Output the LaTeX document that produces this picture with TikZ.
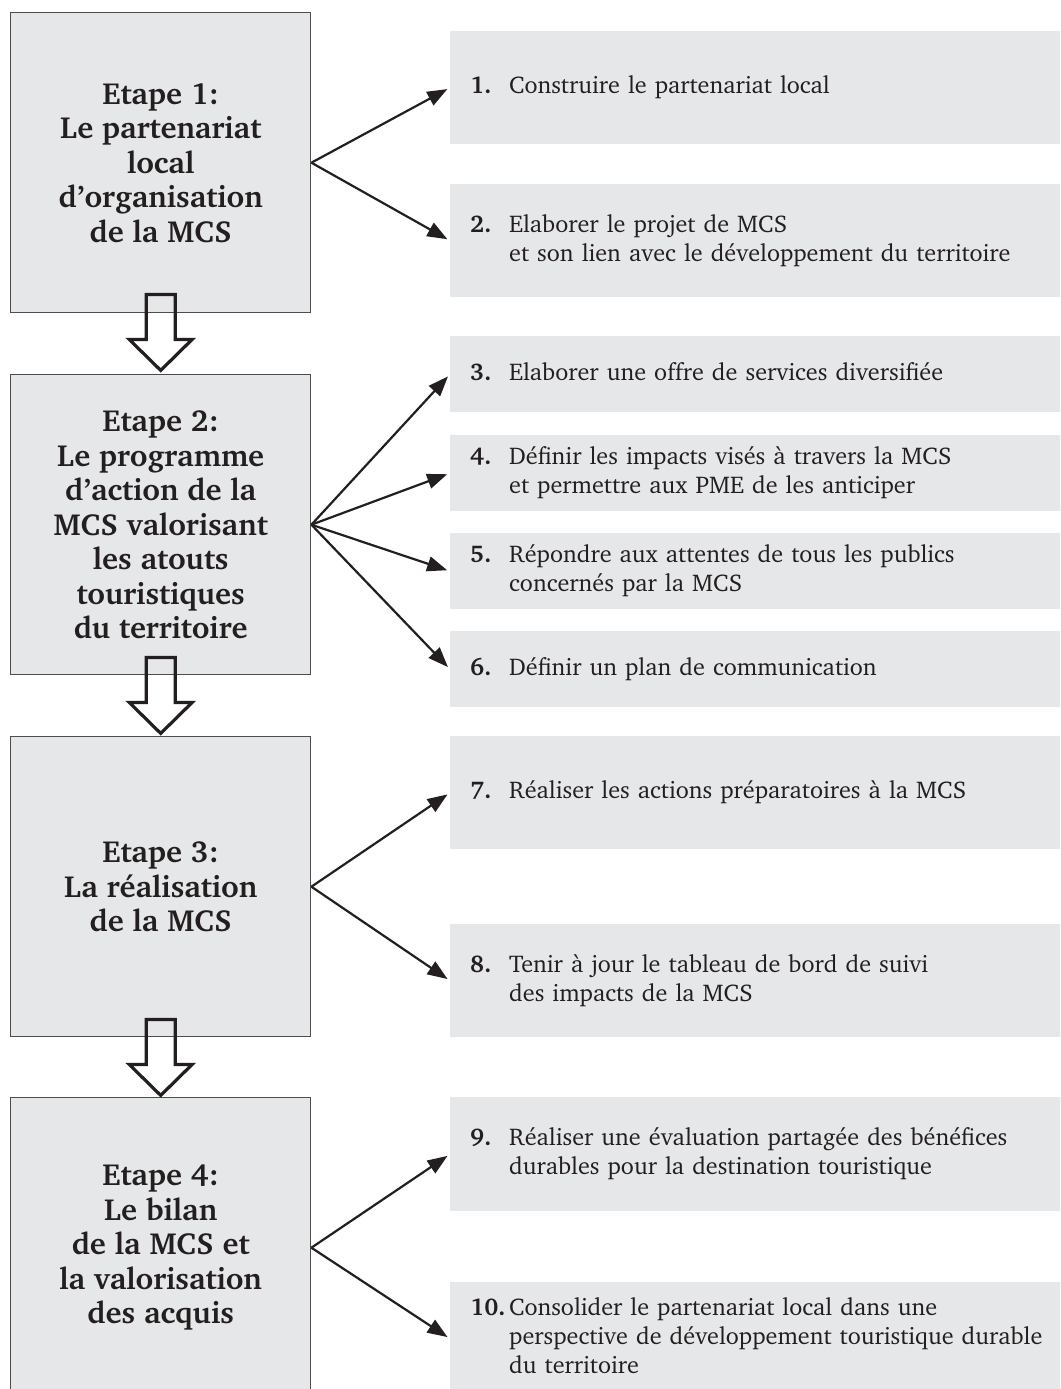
\documentclass[tikz,border=0pt]{standalone}
\usepackage[T1]{fontenc}
\usepackage{charter}
\usetikzlibrary{arrows.meta}
\definecolor{boxgrey}{HTML}{E6E7E8}
\definecolor{ink}{HTML}{231F20}
\definecolor{edge}{HTML}{4D4D4F}
\tikzset{
  sbox/.style={draw=edge, line width=1.4pt, fill=boxgrey, anchor=north west,
    minimum width=300pt, minimum height=300pt, align=center, inner sep=0pt,
    font=\bfseries\fontsize{30.5}{34.5}\selectfont, text=ink},
  rbox/.style={fill=boxgrey, draw=none, anchor=north west, minimum width=640pt,
    inner xsep=16pt, inner ysep=0pt, text width=600pt, align=left,
    font=\fontsize{24.2}{29}\selectfont, text=ink},
  arr/.style={line width=2.2pt, draw=ink, -{Triangle[length=20pt,width=15pt]}, shorten >=3pt},
  blockarr/.pic={
    \draw[line width=3.2pt, draw=ink, miter limit=10]
      (-14.5,0) -- (14.5,0) -- (14.5,45) -- (31.5,45) -- (0,76) -- (-31.5,45) -- (-14.5,45) -- cycle;
  }
}
\newcommand{\itm}[2]{\begin{tabular}{@{}p{39pt}@{}l@{}}\textbf{#1} & #2\end{tabular}}
\begin{document}
\begin{tikzpicture}[x=1pt, y=-1pt]
\useasboundingbox (0,0) rectangle (1060,1389);
\clip (0,0) rectangle (1060,1389);
\fill[white] (0,0) rectangle (1060,1389);

% left stage boxes
\node[sbox] (s1) at (10,12) {Etape 1:\\Le partenariat\\local\\d'organisation\\de la MCS};
\node[sbox] (s2) at (10,374) {Etape 2:\\Le programme\\d'action de la\\MCS valorisant\\les atouts\\touristiques\\du territoire};
\node[sbox] (s3) at (10,736) {Etape 3:\\La réalisation\\de la MCS};
\node[sbox] (s4) at (10,1097) {Etape 4:\\Le bilan\\de la MCS et\\la valorisation\\des acquis};

% block arrows
\pic at ([yshift=19pt]s1.south) {blockarr};
\pic at ([yshift=18pt]s2.south) {blockarr};
\pic at ([yshift=18pt]s3.south) {blockarr};

% right task boxes
\node[rbox, minimum height=113pt] (r1) at (450,31) {\itm{1.}{Construire le partenariat local}};
\node[rbox, minimum height=113pt] (r2) at (450,184) {\itm{2.}{Elaborer le projet de MCS\\ & et son lien avec le développement du territoire}};
\node[rbox, minimum height=76pt] (r3) at (450,336) {\itm{3.}{Elaborer une offre de services diversifiée}};
\node[rbox, minimum height=76pt] (r4) at (450,435) {\itm{4.}{Définir les impacts visés à travers la MCS\\ & et permettre aux PME de les anticiper}};
\node[rbox, minimum height=76pt] (r5) at (450,533) {\itm{5.}{Répondre aux attentes de tous les publics\\ & concernés par la MCS}};
\node[rbox, minimum height=76pt] (r6) at (450,631) {\itm{6.}{Définir un plan de communication}};
\node[rbox, minimum height=113pt] (r7) at (450,736) {\itm{7.}{Réaliser les actions préparatoires à la MCS}};
\node[rbox, minimum height=113pt] (r8) at (450,924) {\itm{8.}{Tenir à jour le tableau de bord de suivi\\ & des impacts de la MCS}};
\node[rbox, minimum height=114pt] (r9) at (450,1097) {\itm{9.}{Réaliser une évaluation partagée des bénéfices\\ & durables pour la destination touristique}};
\node[rbox, minimum height=113pt] (r10) at (450,1282) {\itm{10.}{Consolider le partenariat local dans une\\ & perspective de développement touristique durable\\ & du territoire}};

% connectors
\draw[arr] (s1.east) -- (r1.west);
\draw[arr] (s1.east) -- (r2.west);
\draw[arr] (s2.east) -- (r3.west);
\draw[arr] (s2.east) -- (r4.west);
\draw[arr] (s2.east) -- (r5.west);
\draw[arr] (s2.east) -- (r6.west);
\draw[arr] (s3.east) -- (r7.west);
\draw[arr] (s3.east) -- (r8.west);
\draw[arr] (s4.east) -- (r9.west);
\draw[arr] (s4.east) -- (r10.west);
\end{tikzpicture}
\end{document}
